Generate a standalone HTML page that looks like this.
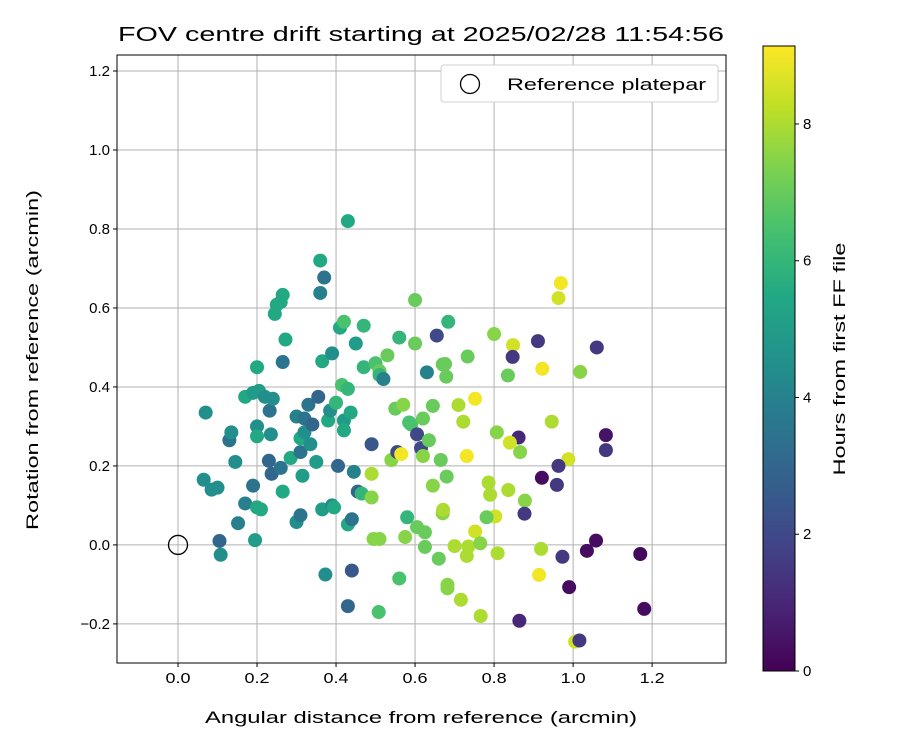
<!DOCTYPE html>
<html><head><meta charset="utf-8"><style>
body{margin:0;background:#fff;font-family:"Liberation Sans",sans-serif}
</style></head><body>
<svg id="c" width="900" height="750" xmlns="http://www.w3.org/2000/svg" font-family="Liberation Sans, sans-serif"></svg>
<script>
const xs=[0.07,0.065,0.085,0.1,0.105,0.108,0.13,0.135,0.145,0.152,0.17,0.17,0.19,0.19,0.195,0.2,0.2,0.2,0.2,0.21,0.205,0.22,0.23,0.232,0.235,0.237,0.24,0.245,0.25,0.26,0.265,0.26,0.265,0.265,0.272,0.285,0.3,0.3,0.31,0.31,0.31,0.315,0.32,0.32,0.33,0.335,0.34,0.35,0.355,0.36,0.36,0.37,0.365,0.365,0.373,0.38,0.385,0.39,0.39,0.395,0.4,0.405,0.41,0.415,0.42,0.42,0.42,0.43,0.43,0.43,0.43,0.437,0.44,0.44,0.445,0.45,0.455,0.465,0.47,0.47,0.49,0.49,0.49,0.495,0.5,0.508,0.51,0.51,0.51,0.52,0.53,0.54,0.55,0.555,0.555,0.56,0.56,0.565,0.57,0.575,0.58,0.585,0.59,0.6,0.6,0.605,0.605,0.615,0.62,0.62,0.625,0.625,0.63,0.635,0.645,0.645,0.655,0.66,0.665,0.67,0.67,
0.969,0.963,0.684,0.8,0.911,0.848,1.06,0.847,0.733,0.922,1.018,0.835,0.676,0.679,0.752,0.71,0.722,0.946,0.807,0.862,1.083,0.84,0.866,1.083,0.731,0.988,0.963,0.921,0.959,0.836,0.786,0.79,0.878,0.877,0.803,0.781,0.752,1.058,1.035,1.17,0.973,0.919,0.809,0.914,0.99,1.18,0.864,1.005,1.016,0.766,0.716,0.682,0.682,0.7,0.735,0.731,0.765,0.68,0.671];
const ys=[0.335,0.165,0.14,0.145,0.01,-0.025,0.265,0.285,0.21,0.055,0.375,0.105,0.385,0.15,0.012,0.45,0.3,0.275,0.095,0.09,0.39,0.375,0.213,0.34,0.28,0.18,0.37,0.585,0.608,0.615,0.633,0.195,0.135,0.463,0.52,0.22,0.325,0.058,0.075,0.27,0.235,0.175,0.285,0.32,0.355,0.255,0.305,0.21,0.375,0.72,0.638,0.677,0.465,0.09,-0.075,0.315,0.34,0.485,0.1,0.095,0.36,0.2,0.55,0.405,0.315,0.29,0.565,0.395,0.82,0.052,-0.155,0.335,-0.065,0.065,0.185,0.51,0.135,0.13,0.555,0.45,0.255,0.18,0.12,0.015,0.46,-0.17,0.015,0.44,0.43,0.42,0.48,0.215,0.345,0.235,0.235,0.525,-0.085,0.23,0.355,0.02,0.07,0.31,0.305,0.62,0.51,0.28,0.045,0.245,0.32,0.225,0.032,-0.005,0.437,0.265,0.15,0.352,0.53,-0.035,0.215,0.08,0.457,
0.663,0.625,0.565,0.534,0.516,0.506,0.5,0.476,0.477,0.446,0.438,0.429,0.458,0.426,0.37,0.354,0.312,0.312,0.285,0.272,0.278,0.259,0.235,0.24,0.225,0.217,0.2,0.17,0.152,0.139,0.158,0.127,0.112,0.079,0.072,0.07,0.034,0.011,-0.015,-0.023,-0.03,-0.01,-0.021,-0.076,-0.107,-0.162,-0.192,-0.245,-0.242,-0.18,-0.139,-0.101,-0.11,-0.003,-0.004,-0.028,0.004,0.173,0.089];
const hours=[4.5,4.5,4.5,4.5,3,4.5,3.5,4.5,4.5,4,5.5,4,5,3.5,5,5.5,4.5,5.5,5.5,5.5,5,4.5,3,3.5,4.5,3,4.5,5.5,5.5,5.5,5.5,3.5,5.5,3.5,5.5,5.5,4,4.5,3.5,5.5,3.5,5,4.5,3.5,3.5,4.5,3,5,3,5.5,4,3.5,5.5,5,4.5,5.5,4.5,4.5,4.5,5.5,6,3,5.5,6.5,5,5.5,6.5,6,5.5,5.5,3,5.5,2.5,3.5,4,5,3,6,6,6,2.5,8,7.5,7.5,6.5,6.5,7.5,7,6,4,7,7.5,7,7.5,2,6,6.5,9,7.5,7.5,6,6.5,6.5,7,7,2,7,2,7,7.5,7,7,4,7,7.5,7,2,7,7,7.5,7,
9,8.5,6,7.5,1.5,8.5,1.5,1.5,7,9,7.5,7,7,7,9,8,8,8,7.5,1,0.5,8.5,7.5,1.5,9,8.5,1.5,0.3,1.5,8,8,8,7.5,1.5,8.5,7,8.5,0.3,0.3,0.2,1.5,8,8,9,0.3,0.3,1,8.5,1.5,8,8,7.5,7.5,8,8,8,7.5,7,8];
const xTicks=[0,0.2,0.4,0.6,0.8,1.0,1.2], yTicks=[-0.2,0,0.2,0.4,0.6,0.8,1.0,1.2], cTicks=[0,2,4,6,8];
const xMin=-0.1544,xMax=1.387,yMin=-0.299,yMax=1.2405,cMax=9.14;
const L=117,R=726,T=55,B=663;
const X=v=>L+(v-xMin)/(xMax-xMin)*(R-L), Y=v=>B-(v-yMin)/(yMax-yMin)*(B-T);
const V=[[68,1,84],[72,36,117],[65,68,135],[53,95,141],[42,120,142],[33,145,140],[34,168,132],[68,191,112],[122,209,81],[189,223,38],[253,231,37]];
function vir(t){t=Math.max(0,Math.min(1,t))*10;const i=Math.min(9,Math.floor(t)),f=t-i;const a=V[i],b=V[i+1];return `rgb(${a.map((c,k)=>Math.round(c+(b[k]-c)*f)).join(',')})`;}
const s=document.getElementById('c'),NS='http://www.w3.org/2000/svg';
function el(t,a,p){const e=document.createElementNS(NS,t);for(const k in a)e.setAttribute(k,a[k]);(p||s).appendChild(e);return e;}
function tx(str,a,p){const e=el('text',a,p);e.textContent=str;return e;}
el('rect',{x:L,y:T,width:R-L,height:B-T,fill:'#fff'});
xTicks.forEach(v=>{const g=el('line',{x1:X(v),x2:X(v),y1:T,y2:B,stroke:'#b0b0b0','stroke-width':1});
el('line',{x1:X(v),x2:X(v),y1:B,y2:B+4,stroke:'#000'});
const t=tx(v.toFixed(1),{x:X(v),y:B+20,'text-anchor':'middle','font-size':15,textLength:25,lengthAdjust:'spacingAndGlyphs'});});
yTicks.forEach(v=>{const g=el('line',{x1:L,x2:R,y1:Y(v),y2:Y(v),stroke:'#b0b0b0','stroke-width':1});
el('line',{x1:L-4,x2:L,y1:Y(v),y2:Y(v),stroke:'#000'});
const t=tx((v<0?'\u2212':'')+Math.abs(v).toFixed(1),{x:L-7,y:Y(v)+5,'text-anchor':'end','font-size':15});});
xs.forEach((x,i)=>{const c=el('circle',{cx:X(x),cy:Y(ys[i]),r:7,fill:vir(hours[i]/cMax)});});
const ref=el('circle',{cx:X(0),cy:Y(0),r:9.5,fill:'none',stroke:'#000','stroke-width':1.3});
const fr=el('rect',{x:L,y:T,width:R-L,height:B-T,fill:'none',stroke:'#000','stroke-width':1});
const lg=el('g',{});
el('rect',{x:441,y:65,width:277,height:37,rx:3,fill:'#fff',stroke:'#d0d0d0'},lg);
el('circle',{cx:470,cy:84,r:9.5,fill:'none',stroke:'#000','stroke-width':1.3},lg);
tx('Reference platepar',{x:507,y:90,'font-size':17,textLength:199,lengthAdjust:'spacingAndGlyphs'},lg);
const ti=tx('FOV centre drift starting at 2025/02/28 11:54:56',{x:118,y:41,'font-size':20,textLength:606,lengthAdjust:'spacingAndGlyphs'});
const xl=tx('Angular distance from reference (arcmin)',{x:205,y:723,'font-size':17,textLength:432,lengthAdjust:'spacingAndGlyphs'});
const yl=tx('Rotation from reference (arcmin)',{x:0,y:0,'text-anchor':'middle','font-size':17,textLength:340,lengthAdjust:'spacingAndGlyphs',transform:`translate(38,360) rotate(-90)`});
const CL=763,CR=795,CT=46,CB=671;
const defs=el('defs',{});const lgd=el('linearGradient',{id:'vg',x1:0,y1:1,x2:0,y2:0},defs);
for(let i=0;i<=20;i++)el('stop',{offset:i/20,'stop-color':vir(i/20)},lgd);
const cb=el('rect',{x:CL,y:CT,width:CR-CL,height:CB-CT,fill:'url(#vg)',stroke:'#000','stroke-width':1});
const CY=v=>CB-v/cMax*(CB-CT);
cTicks.forEach(v=>{el('line',{x1:CR,x2:CR+4,y1:CY(v),y2:CY(v),stroke:'#000'});const t=tx(String(v),{x:CR+8,y:CY(v)+5,'font-size':15});});
const cl=tx('Hours from first FF file',{x:0,y:0,'text-anchor':'middle','font-size':17,textLength:233,lengthAdjust:'spacingAndGlyphs',transform:`translate(845,359) rotate(-90)`});
</script>
</body></html>
